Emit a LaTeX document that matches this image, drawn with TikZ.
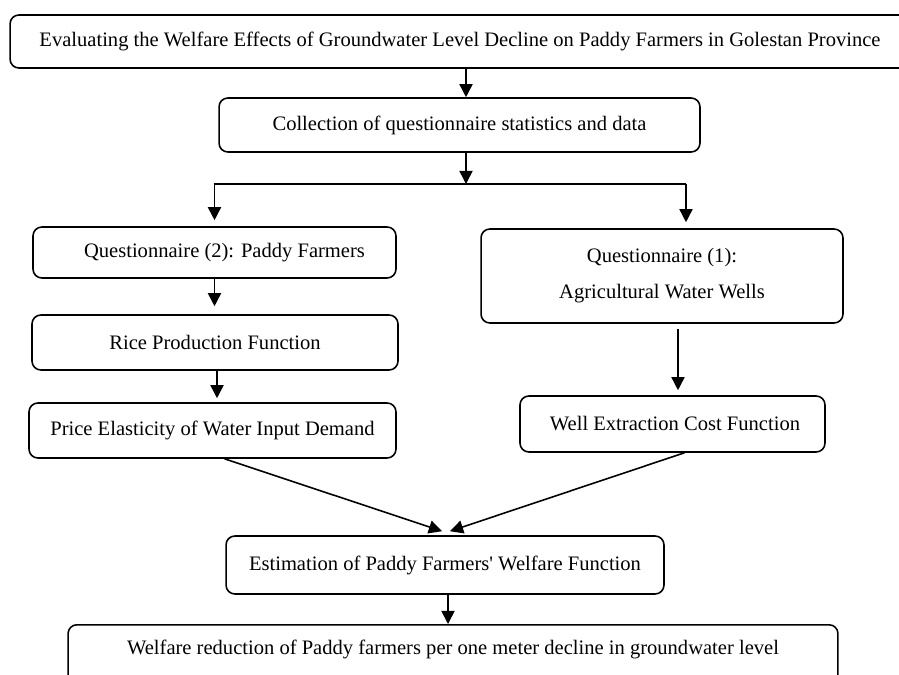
\documentclass[tikz,border=0pt]{standalone}
\usepackage{fontspec}
\setmainfont{Liberation Serif}
\usetikzlibrary{arrows.meta,positioning,calc}

\begin{document}
\begin{tikzpicture}[
  x=0.02cm, y=-0.02cm,
  box/.style={draw, line width=0.9pt, rounded corners=5pt, align=center,
              inner sep=0pt, font=\fontsize{11.7}{20.5}\selectfont},
  arr/.style={-{Triangle[length=7.5pt, width=7.5pt]}, line width=0.9pt},
  ln/.style={line width=0.9pt},
]
\useasboundingbox (0,0) rectangle (899,675);
\clip (0,0) rectangle (899,675);

% --- Top ---
\node[box, minimum width=18cm, minimum height=1.06cm] (top) at (460,41.5)
  {Evaluating the Welfare Effects of Groundwater Level Decline on Paddy Farmers in Golestan Province};
\node[box, minimum width=9.62cm, minimum height=1.08cm] (coll) at (459.5,125)
  {Collection of questionnaire statistics and data};
\coordinate (split) at (466,184);

% --- Left column: paddy farmers ---
\node[box, minimum width=7.26cm, minimum height=1.02cm] (q2) at (214.5,252.5)
  {\hspace{0.4cm}Questionnaire (2): Paddy Farmers};
\node[box, minimum width=7.32cm, minimum height=1.1cm] (rice) at (215,342.5)
  {Rice Production Function};
\node[box, minimum width=7.34cm, minimum height=1.1cm] (price) at (212.5,430.5)
  {Price Elasticity of Water Input Demand};

% --- Right column: water wells ---
\node[box, minimum width=7.24cm, minimum height=1.88cm] (q1) at (662,276)
  {Questionnaire (1):\\Agricultural Water Wells};
\node[box, minimum width=6.1cm, minimum height=1.12cm] (well) at (672.5,424)
  {\hspace{0.1cm}Well Extraction Cost Function};

% --- Bottom ---
\node[box, minimum width=8.76cm, minimum height=1.16cm] (est) at (445,565)
  {Estimation of Paddy Farmers\textquotesingle{} Welfare Function};
\node[box, anchor=north, minimum width=15.4cm, text depth=1.2cm, inner ysep=0.3cm] (res) at (453,624)
  {Welfare reduction of Paddy farmers per one meter decline in groundwater level};

\draw[arr] (top.south -| split) -- (coll.north -| split);
\draw[arr] (coll.south -| split) -- (split);
\draw[ln] ($(q2.north |- split)+(-1,0)$) -- ($(q1.north |- split)+(24,0)$);
\draw[arr] (q2.north |- split) -- ($(q2.north)+(0,-6)$);
\draw[arr] ($(q1.north |- split)+(24,0)$) -- ($(q1.north)+(24,-6)$);
\draw[arr] (q2.south) -- ($(q2.south |- rice.north)+(0,-8)$);
\draw[arr] ($(rice.south)+(2,0)$) -- ($(rice.south |- price.north)+(2,-4)$);
\draw[arr] ($(q1.south)+(16,5)$) -- ($(q1.south |- well.north)+(16,-5)$);
\draw[arr] ($(price.south)+(12,0)$) -- ($(est.north)+(-3,-4)$);
\draw[arr] ($(well.south)+(12,0)$) -- ($(est.north)+(5,-4)$);
\draw[arr] ($(est.south)+(3,0)$) -- ($(est.south |- res.north)+(3,0)$);
\end{tikzpicture}
\end{document}
